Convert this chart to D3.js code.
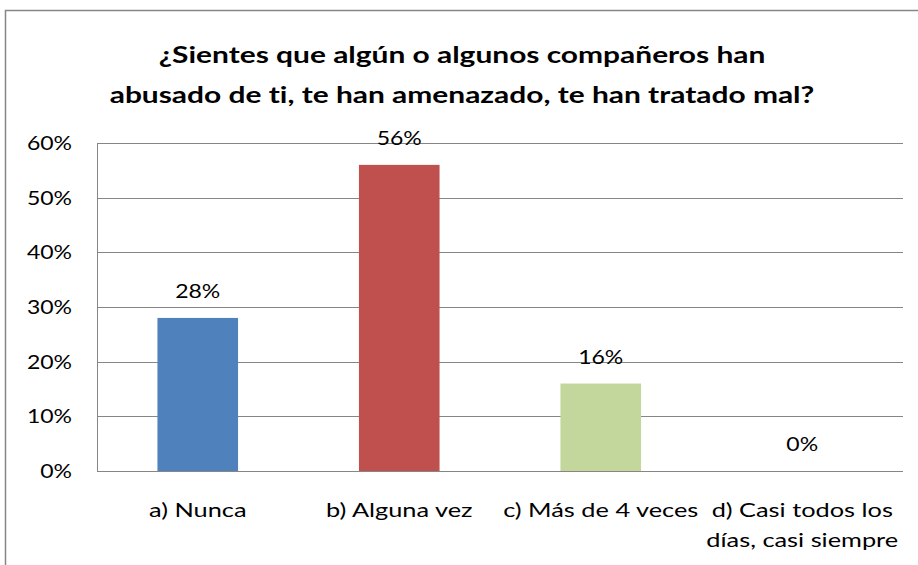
<!DOCTYPE html>
<html>
<head>
<meta charset="utf-8">
<script src="https://cdn.jsdelivr.net/npm/d3@7"></script>
<style>
  body { margin: 0; background: #fff; }
  #viz { width: 918px; height: 565px; }
  text { font-family: Lato, "Open Sans", sans-serif; font-variant-ligatures: none; }
</style>
</head>
<body>
<div id="viz"></div>
<script>
const categories = ['a) Nunca', 'b) Alguna vez', 'c) Más de 4 veces', 'd) Casi todos los|días, casi siempre'];
const values = [0.28, 0.56, 0.16, 0];
const colors = ['#4F81BD', '#C0504D', '#C3D69B', '#8064A2'];
const yTicks = [0, 0.1, 0.2, 0.3, 0.4, 0.5, 0.6];
const titleLines = ['¿Sientes que algún o algunos compañeros han', 'abusado de ti, te han amenazado, te han tratado mal?'];

const width = 918;
const height = 565;
const margin = { top: 143, right: 15, bottom: 94, left: 97 };

// the picture is wider than it is tall, so text gets a horizontal stretch
const stretchTitle = 1.36;
const stretchNum = 1.18;
const stretchCat = 1.3;
const fontSize = 19.5;
const fmt = d3.format('.0%');

const svg = d3
    .select('#viz')
    .append('svg')
    .attr('width', width)
    .attr('height', height);

// chart border
svg.append('rect')
    .attr('x', 5.5)
    .attr('y', 10.5)
    .attr('width', 930)
    .attr('height', 580)
    .attr('fill', 'none')
    .attr('stroke', '#868686')
    .attr('stroke-width', 1.5);

// title
svg.append('g')
    .selectAll('text')
    .data(titleLines)
    .join('text')
    .attr('transform', (d, i) => `translate(462,${63 + i * 40}) scale(${stretchTitle},1)`)
    .attr('text-anchor', 'middle')
    .attr('font-size', 22)
    .attr('font-weight', 'bold')
    .attr('fill', '#000')
    .text(d => d);

const xScale = d3.scaleBand()
    .domain(categories)
    .range([margin.left, width - margin.right])
    .padding(0);

const yScale = d3.scaleLinear()
    .domain([0, 0.6])
    .range([height - margin.bottom, margin.top]);

// gridlines
svg.append('g')
    .selectAll('line')
    .data(yTicks)
    .join('line')
    .attr('x1', margin.left)
    .attr('x2', width - margin.right)
    .attr('y1', d => Math.round(yScale(d)) + 0.5)
    .attr('y2', d => Math.round(yScale(d)) + 0.5)
    .attr('stroke', '#868686')
    .attr('stroke-width', 1);

// y axis line
svg.append('line')
    .attr('x1', margin.left + 0.5)
    .attr('x2', margin.left + 0.5)
    .attr('y1', yScale(0.6))
    .attr('y2', yScale(0))
    .attr('stroke', '#868686');

// y tick labels
svg.append('g')
    .selectAll('text')
    .data(yTicks)
    .join('text')
    .attr('transform', d => `translate(72,${yScale(d) + 7}) scale(${stretchNum},1)`)
    .attr('text-anchor', 'end')
    .attr('font-size', fontSize)
    .attr('fill', '#000')
    .text(d => fmt(d));

// bars
const barW = xScale.bandwidth() * 0.4;
svg.append('g')
    .selectAll('rect')
    .data(values)
    .join('rect')
    .attr('x', (d, i) => xScale(categories[i]) + (xScale.bandwidth() - barW) / 2)
    .attr('y', d => yScale(d))
    .attr('width', barW)
    .attr('height', d => yScale(0) - yScale(d))
    .attr('fill', (d, i) => colors[i]);

// value labels
svg.append('g')
    .selectAll('text')
    .data(values)
    .join('text')
    .attr('transform', (d, i) =>
        `translate(${xScale(categories[i]) + xScale.bandwidth() / 2},${yScale(d) - 20}) scale(${stretchNum},1)`)
    .attr('text-anchor', 'middle')
    .attr('font-size', fontSize)
    .attr('fill', '#000')
    .text(d => fmt(d));

// category labels
svg.append('g')
    .selectAll('text')
    .data(categories)
    .join('text')
    .each(function (d) {
        const x = xScale(d) + xScale.bandwidth() / 2;
        d3.select(this)
            .attr('transform', `translate(${x},0) scale(${stretchCat},1)`)
            .attr('text-anchor', 'middle')
            .attr('font-size', fontSize)
            .attr('fill', '#000')
            .selectAll('tspan')
            .data(d.split('|'))
            .join('tspan')
            .attr('x', 0)
            .attr('y', (f, j) => 517 + j * 30)
            .text(f => f);
    });
</script>
</body>
</html>
